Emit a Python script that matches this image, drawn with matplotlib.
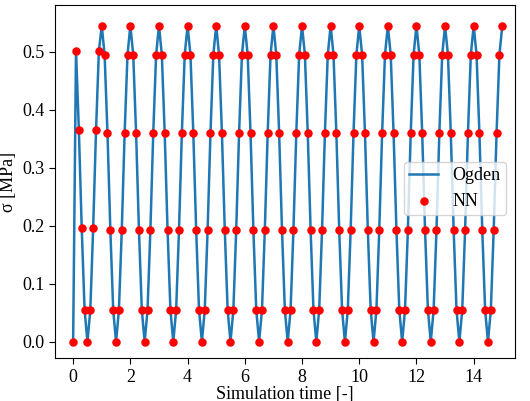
import numpy as np
import matplotlib
matplotlib.use("Agg")
import matplotlib.pyplot as plt

plt.rcParams['font.family'] = ['Liberation Serif', 'DejaVu Serif']
plt.rcParams['font.size'] = 13

# first cycle (t = 0.0 .. 1.0) and the repeated cycle (t = 1.1 .. 2.0)
first_cycle = [0.0, 0.502, 0.365, 0.196, 0.055, 0.0, 0.055, 0.197, 0.365, 0.502, 0.545]
repeat_cycle = [0.495, 0.360, 0.193, 0.055, 0.0, 0.055, 0.193, 0.360, 0.495, 0.545]
n_repeats = 14

sigma = np.array(first_cycle + repeat_cycle * n_repeats)
time = np.arange(len(sigma)) * 0.1

fig, ax = plt.subplots(figsize=(5.30, 4.01), dpi=100)
ax.plot(time, sigma, color='#1f77b4', lw=1.8, label='Ogden', zorder=1)
ax.scatter(time, sigma, color='red', s=26, label='NN', zorder=2)
ax.set_xlabel('Simulation time [-]', labelpad=0)
ax.set_ylabel('σ [MPa]')
ax.set_xticks(range(0, 15, 2))
ax.set_yticks(np.arange(0, 0.51, 0.1))
ax.set_xlim(-0.63, 15.45)
ax.set_ylim(-0.028, 0.581)
ax.tick_params(direction='out', length=4)
ax.legend(loc='center right', fontsize=13, handlelength=1.6, borderpad=0.3,
          bbox_to_anchor=(1.0, 0.48))
fig.subplots_adjust(left=0.104, right=0.972, top=0.988, bottom=0.107)
fig.savefig('out.png', dpi=100)
